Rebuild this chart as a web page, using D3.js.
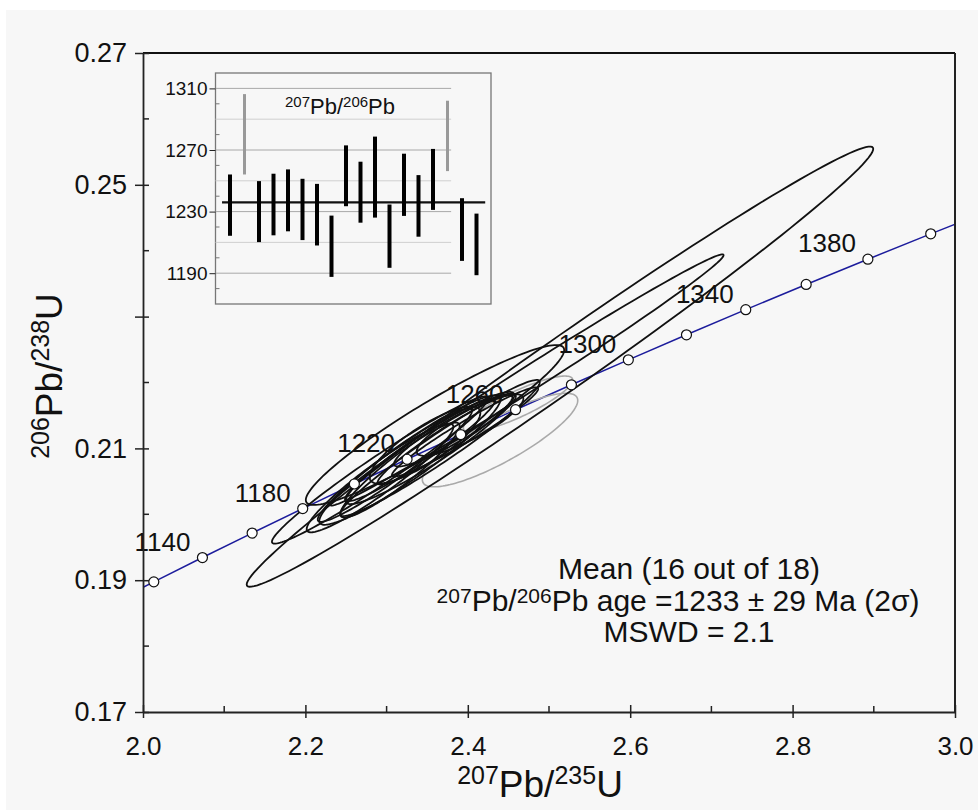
<!DOCTYPE html>
<meta charset="utf-8">
<style>
body { margin: 0; background: #fff; }
svg { font-family: "Liberation Sans", Arial, sans-serif; }
.ell { fill: none; stroke: #111; stroke-width: 1.8px; }
.ell.rej { stroke: #aaa; stroke-width: 1.6px; }
.concordia { fill: none; stroke: #1c1c9c; stroke-width: 1.5px; }
.dot { fill: #fff; stroke: #111; stroke-width: 1.2px; }
.axis path, .axis line { stroke: #222; }
.axis text { fill: #111; }
</style>
<body>
<script src="https://d3js.org/d3.v7.min.js"></script>
<script>

// concordia curve, 20 Ma steps
var concAge = [1100, 1120, 1140, 1160, 1180, 1200, 1220, 1240, 1260, 1280, 1300, 1320, 1340, 1360, 1380, 1400, 1420];
var concX = [1.9545, 2.0133, 2.0732, 2.1344, 2.1967, 2.2603, 2.3252, 2.3913, 2.4588, 2.5276, 2.5977, 2.6693, 2.7423, 2.8167, 2.8927, 2.9701, 3.0491];
var concY = [0.18606, 0.18975, 0.19344, 0.19715, 0.20087, 0.20460, 0.20835, 0.21210, 0.21587, 0.21965, 0.22344, 0.22724, 0.23105, 0.23488, 0.23871, 0.24256, 0.24641];
var labelAges = [1140, 1180, 1220, 1260, 1300, 1340, 1380];

// analyses: 207Pb/235U, 206Pb/238U, 2s half-widths, error correlation
var ellX   = [2.5135, 2.4729, 2.3596, 2.2919, 2.3103, 2.3411, 2.3534, 2.3719, 2.3288, 2.3842, 2.3165, 2.3658, 2.4027, 2.2919, 2.3473, 2.3966, 2.4618, 2.4397];
var ellY   = [0.2224, 0.22038, 0.21355, 0.20672, 0.20748, 0.20976, 0.21006, 0.21127, 0.20824, 0.21279, 0.20672, 0.21006, 0.21355, 0.20551, 0.21052, 0.21249, 0.21674, 0.21127];
var ellEx  = [0.3858, 0.2421, 0.1591, 0.1331, 0.0951, 0.0923, 0.1038, 0.0830, 0.1117, 0.0750, 0.0735, 0.1229, 0.0657, 0.0903, 0.0682, 0.0900, 0.0673, 0.0957];
var ellEy  = [0.0334, 0.01906, 0.01213, 0.01117, 0.00862, 0.00778, 0.00851, 0.00676, 0.00983, 0.00554, 0.00720, 0.01033, 0.00467, 0.00824, 0.00584, 0.00677, 0.00424, 0.00710];
var ellRho = [0.9895, 0.99357, 0.9373, 0.9735, 0.9596, 0.9597, 0.9410, 0.9560, 0.9415, 0.9259, 0.9289, 0.9690, 0.8592, 0.9408, 0.8358, 0.9654, 0.8599, 0.8466];
var ellUsed = [true, true, true, true, true, true, true, true, true, true, true, true, true, true, true, true, false, false];

// axis ticks
var xMajor = [2.0, 2.2, 2.4, 2.6, 2.8, 3.0];
var xMinor = [2.1, 2.3, 2.5, 2.7, 2.9];
var yMajor = [0.17, 0.19, 0.21, 0.23, 0.25, 0.27];
var yLabels = ["0.17", "0.19", "0.21", "", "0.25", "0.27"];
var yMinor = [0.18, 0.20, 0.22, 0.24, 0.26];

// inset: 207Pb/206Pb ages (Ma), 2s bars
var barLo = [1214.3, 1254.1, 1210.2, 1214.6, 1217.2, 1211.5, 1208.0, 1187.6, 1233.5, 1222.8, 1226.1, 1193.5, 1227.2, 1213.7, 1231.1, 1256.3, 1198.0, 1188.7];
var barHi = [1254.1, 1306.3, 1249.8, 1254.6, 1257.4, 1251.3, 1248.0, 1227.4, 1273.0, 1262.4, 1278.7, 1234.6, 1267.6, 1253.7, 1270.7, 1302.0, 1238.7, 1228.7];
var barUsed = [true, false, true, true, true, true, true, true, true, true, true, true, true, true, true, false, true, true];
var insetMean = 1236;
var insetTicks = [1190, 1230, 1270, 1310];
var insetGrid = [1190, 1210, 1230, 1250, 1270, 1290, 1310];
var insetMinor = [1180, 1200, 1220, 1240, 1260, 1280, 1300];

var svg = d3.select("body").append("svg")
    .attr("width", 978)
    .attr("height", 810);

svg.append("rect")
    .attr("x", 6).attr("y", 10)
    .attr("width", 972).attr("height", 800)
    .attr("fill", "#f7f7f7");

var x = d3.scaleLinear().domain([2.0, 3.0]).range([143, 955]);
var y = d3.scaleLinear().domain([0.17, 0.27]).range([712, 53]);

svg.append("clipPath").attr("id", "plot")
  .append("rect")
    .attr("x", 143).attr("y", 53)
    .attr("width", 812).attr("height", 659);

// concordia
var conc = concAge.map(function(a, i) { return [concX[i], concY[i]]; });
var concLine = d3.line()
    .x(function(d) { return x(d[0]); })
    .y(function(d) { return y(d[1]); })
    .curve(d3.curveCatmullRom);

svg.append("path")
    .datum(conc)
    .attr("class", "concordia")
    .attr("clip-path", "url(#plot)")
    .attr("d", concLine);

// error ellipses
function ellipsePts(i) {
  var r = ellRho[i], k = Math.sqrt(1 - r * r);
  return d3.range(0, 144).map(function(j) {
    var t = j / 144 * 2 * Math.PI;
    return [ellX[i] + ellEx[i] * Math.cos(t),
            ellY[i] + ellEy[i] * (r * Math.cos(t) + k * Math.sin(t))];
  });
}
var ellLine = d3.line()
    .x(function(d) { return x(d[0]); })
    .y(function(d) { return y(d[1]); })
    .curve(d3.curveLinearClosed);

var order = d3.range(ellX.length).sort(function(a, b) { return ellUsed[a] - ellUsed[b]; });
svg.append("g").selectAll("path")
    .data(order)
  .enter().append("path")
    .attr("class", function(i) { return ellUsed[i] ? "ell" : "ell rej"; })
    .attr("d", function(i) { return ellLine(ellipsePts(i)); });

// age markers
var inside = d3.range(concAge.length).filter(function(i) { return concX[i] >= 2 && concX[i] <= 3; });
svg.append("g").selectAll("circle")
    .data(inside)
  .enter().append("circle")
    .attr("class", "dot")
    .attr("cx", function(i) { return x(concX[i]); })
    .attr("cy", function(i) { return y(concY[i]); })
    .attr("r", 5);

svg.append("g").selectAll("text")
    .data(labelAges)
  .enter().append("text")
    .attr("x", function(a) { return x(concX[concAge.indexOf(a)]) - 12; })
    .attr("y", function(a) { return y(concY[concAge.indexOf(a)]) - 7; })
    .attr("text-anchor", "end")
    .attr("font-size", 26)
    .attr("fill", "#111")
    .text(function(a) { return a; });

// frame
svg.append("line").attr("x1", 143).attr("x2", 955).attr("y1", 53).attr("y2", 53)
    .attr("stroke", "#111").attr("stroke-width", 2.2);
svg.append("line").attr("x1", 955).attr("x2", 955).attr("y1", 53).attr("y2", 712)
    .attr("stroke", "#222").attr("stroke-width", 2);

// x axis
var gx = svg.append("g")
    .attr("class", "axis")
    .attr("transform", "translate(0,712)")
    .call(d3.axisBottom(x).tickValues(xMajor).tickFormat(d3.format(".1f")).tickSizeInner(6).tickSizeOuter(0));
gx.select(".domain").attr("stroke-width", 2.2);
gx.selectAll(".tick line").attr("y1", -7).attr("stroke-width", 1.5);
gx.selectAll(".tick text").attr("y", 43).attr("dy", null).attr("font-size", 26).attr("font-family", null);
gx.selectAll(".minor").data(xMinor).enter().append("line")
    .attr("x1", function(d) { return x(d); }).attr("x2", function(d) { return x(d); })
    .attr("y1", 0).attr("y2", -6).attr("stroke", "#222").attr("stroke-width", 1.5);

// y axis
var gy = svg.append("g")
    .attr("class", "axis")
    .attr("transform", "translate(143,0)")
    .call(d3.axisLeft(y).tickValues(yMajor)
      .tickFormat(function(d, i) { return yLabels[i]; })
      .tickSizeInner(8).tickSizeOuter(0));
gy.select(".domain").attr("stroke-width", 1.8).attr("stroke", "#444");
gy.selectAll(".tick line").attr("x2", 6).attr("x1", -8).attr("stroke-width", 1.5);
gy.selectAll(".tick text").attr("x", -16).attr("font-size", 27).attr("font-family", null);
gy.selectAll(".minor").data(yMinor).enter().append("line")
    .attr("y1", function(d) { return y(d); }).attr("y2", function(d) { return y(d); })
    .attr("x1", 0).attr("x2", 6).attr("stroke", "#222").attr("stroke-width", 1.5);

// text with superscripts
function rich(t, parts, size, supSize, shift) {
  parts.forEach(function(p, i) {
    var prev = i > 0 && parts[i - 1][1];
    var s = t.append("tspan").text(p[0]).attr("font-size", p[1] ? supSize : size);
    if (p[1] && !prev) s.attr("dy", -shift);
    if (!p[1] && prev) s.attr("dy", shift);
  });
  return t;
}

rich(svg.append("text").attr("x", 540).attr("y", 797).attr("text-anchor", "middle").attr("fill", "#111"),
  [["207", 1], ["Pb/", 0], ["235", 1], ["U", 0]], 37, 25, 13);

rich(svg.append("text").attr("transform", "translate(62,376) rotate(-90)")
    .attr("text-anchor", "middle").attr("fill", "#111"),
  [["206", 1], ["Pb/", 0], ["238", 1], ["U", 0]], 37, 25, 13);

// annotation
svg.append("text").attr("x", 689).attr("y", 579).attr("text-anchor", "middle")
    .attr("font-size", 30).attr("fill", "#111").text("Mean (16 out of 18)");
rich(svg.append("text").attr("x", 678).attr("y", 611).attr("text-anchor", "middle").attr("fill", "#111"),
  [["207", 1], ["Pb/", 0], ["206", 1], ["Pb age =1233 \u00b1 29 Ma (2\u03c3)", 0]], 30, 21, 8);
svg.append("text").attr("x", 689).attr("y", 642).attr("text-anchor", "middle")
    .attr("font-size", 30).attr("fill", "#111").text("MSWD = 2.1");

// inset
var ix = d3.scaleLinear().domain([0, 19]).range([215.5, 491]);
var iy = d3.scaleLinear().domain([1170, 1320]).range([304, 73]);
var inset = svg.append("g");

inset.append("rect")
    .attr("x", 215.5).attr("y", 73)
    .attr("width", 275.5).attr("height", 231)
    .attr("fill", "#f7f7f7").attr("stroke", "#777").attr("stroke-width", 1.3);

inset.selectAll(".grid").data(insetGrid).enter().append("line")
    .attr("x1", ix(0)).attr("x2", ix(16.25))
    .attr("y1", function(d) { return iy(d); }).attr("y2", function(d) { return iy(d); })
    .attr("stroke", function(d) { return insetTicks.indexOf(d) >= 0 ? "#a8a8a8" : "#cfcfcf"; })
    .attr("stroke-width", 1);

inset.selectAll(".mtick").data(insetMinor).enter().append("line")
    .attr("x1", ix(0)).attr("x2", ix(0) + 4)
    .attr("y1", function(d) { return iy(d); }).attr("y2", function(d) { return iy(d); })
    .attr("stroke", "#777");

var gi = inset.append("g")
    .attr("class", "axis")
    .attr("transform", "translate(215.5,0)")
    .call(d3.axisLeft(iy).tickValues(insetTicks).tickFormat(d3.format("d"))
      .tickSizeInner(6).tickSizeOuter(0).tickPadding(2));
gi.select(".domain").remove();
gi.selectAll(".tick line").attr("stroke", "#777");
gi.selectAll(".tick text").attr("font-size", 19).attr("font-family", null);

inset.append("line")
    .attr("x1", ix(0.45)).attr("x2", ix(18.6))
    .attr("y1", iy(insetMean)).attr("y2", iy(insetMean))
    .attr("stroke", "#111").attr("stroke-width", 2.2);

inset.selectAll(".bar").data(barLo).enter().append("line")
    .attr("x1", function(d, i) { return ix(i + 1); })
    .attr("x2", function(d, i) { return ix(i + 1); })
    .attr("y1", function(d) { return iy(d); })
    .attr("y2", function(d, i) { return iy(barHi[i]); })
    .attr("stroke", function(d, i) { return barUsed[i] ? "#000" : "#999"; })
    .attr("stroke-width", function(d, i) { return barUsed[i] ? 4 : 3; });

rich(inset.append("text").attr("x", 340).attr("y", 114).attr("text-anchor", "middle").attr("fill", "#111"),
  [["207", 1], ["Pb/", 0], ["206", 1], ["Pb", 0]], 22, 15, 7);

</script>
</body>
